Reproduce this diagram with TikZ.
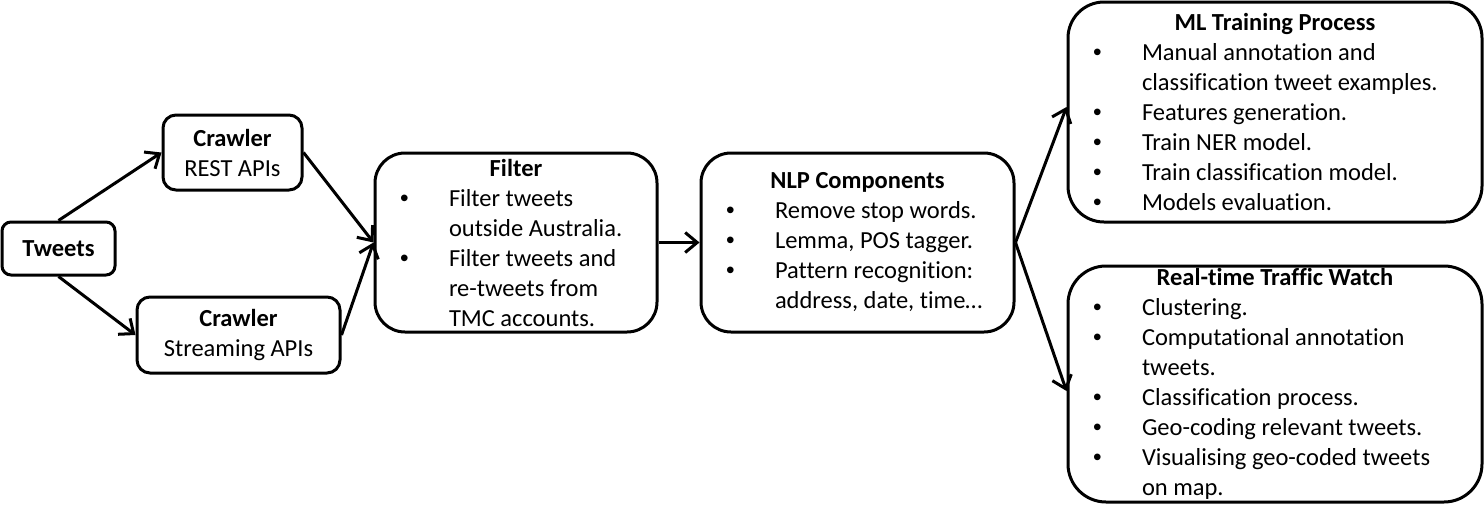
\documentclass[tikz,border=0pt]{standalone}
\usepackage{fontspec}
\setmainfont{Carlito}[Ligatures={NoCommon,NoContextual}]
\newfontfamily\bulletfont{Liberation Sans}
\usetikzlibrary{arrows.meta}

% bullet item and continuation line inside the process boxes
\newcommand\bitem{\hspace*{25pt}\makebox[49pt][l]{\bulletfont\textbullet}}
\newcommand\bcont{\hspace*{74pt}}
\newcommand\boxtext[2]{\begin{minipage}{#1}\fontsize{24.5pt}{30pt}\selectfont#2\end{minipage}}

\tikzset{
  proc/.style={draw=black, line width=3pt, fill=white, inner sep=0pt,
               font=\fontsize{24.5pt}{30pt}\selectfont, align=center},
  flow/.style={line width=3pt, -{Straight Barb[length=12pt,width=20pt,line width=3pt]}},
}

\begin{document}
\begin{tikzpicture}[x=1pt,y=-1pt]
\useasboundingbox (0,0) rectangle (1484,520);

% input and crawlers
\node[proc, rounded corners=9pt, minimum width=113pt, minimum height=53pt]
  (tweets) at (58.5,248.5) {\textbf{Tweets}};
\node[proc, rounded corners=13pt, minimum width=139pt, minimum height=75pt]
  (rest) at (232.5,152.5) {\textbf{Crawler}\\REST APIs};
\node[proc, rounded corners=13pt, minimum width=203pt, minimum height=76pt]
  (stream) at (238.5,335) {\textbf{Crawler}\\Streaming APIs};

% filtering and NLP stages
\node[proc, rounded corners=30pt, minimum width=282pt, minimum height=179pt]
  (filter) at (516,242.5) {\boxtext{282pt}{%
    \centering\textbf{Filter}\par\raggedright
    \bitem Filter tweets\par
    \bcont outside Australia.\par
    \bitem Filter tweets and\par
    \bcont re-tweets from\par
    \bcont TMC accounts.}};
\node[proc, rounded corners=30pt, minimum width=313pt, minimum height=179pt]
  (nlp) at (857.5,242.5) {\boxtext{313pt}{%
    \centering\textbf{NLP Components}\par\raggedright
    \bitem Remove stop words.\par
    \bitem Lemma, POS tagger.\par
    \bitem Pattern recognition:\par
    \bcont address, date, time…}};

% output stages
\node[proc, rounded corners=36pt, minimum width=414pt, minimum height=220pt]
  (ml) at (1275,112) {\boxtext{414pt}{%
    \centering\textbf{ML Training Process}\par\raggedright
    \bitem Manual annotation and\par
    \bcont classification tweet examples.\par
    \bitem Features generation.\par
    \bitem Train NER model.\par
    \bitem Train classification model.\par
    \bitem Models evaluation.}};
\node[proc, rounded corners=38pt, minimum width=414pt, minimum height=236pt]
  (rt) at (1275,384) {\boxtext{414pt}{%
    \centering\textbf{Real-time Traffic Watch}\par\raggedright
    \bitem Clustering.\par
    \bitem Computational annotation\par
    \bcont tweets.\par
    \bitem Classification process.\par
    \bitem Geo-coding relevant tweets.\par
    \bitem Visualising geo-coded tweets\par
    \bcont on map.}};

% connectors
\draw[flow] (tweets.north) -- (rest.west);
\draw[flow] (tweets.south) -- (stream.west);
\draw[flow] (rest.east) -- (filter.west);
\draw[flow] (stream.east) -- (filter.west);
\draw[flow] (filter.east) -- (nlp.west);
\draw[flow] (nlp.east) -- ([yshift=5pt]ml.west);
\draw[flow] (nlp.east) -- ([yshift=-7pt]rt.west);
\end{tikzpicture}
\end{document}
